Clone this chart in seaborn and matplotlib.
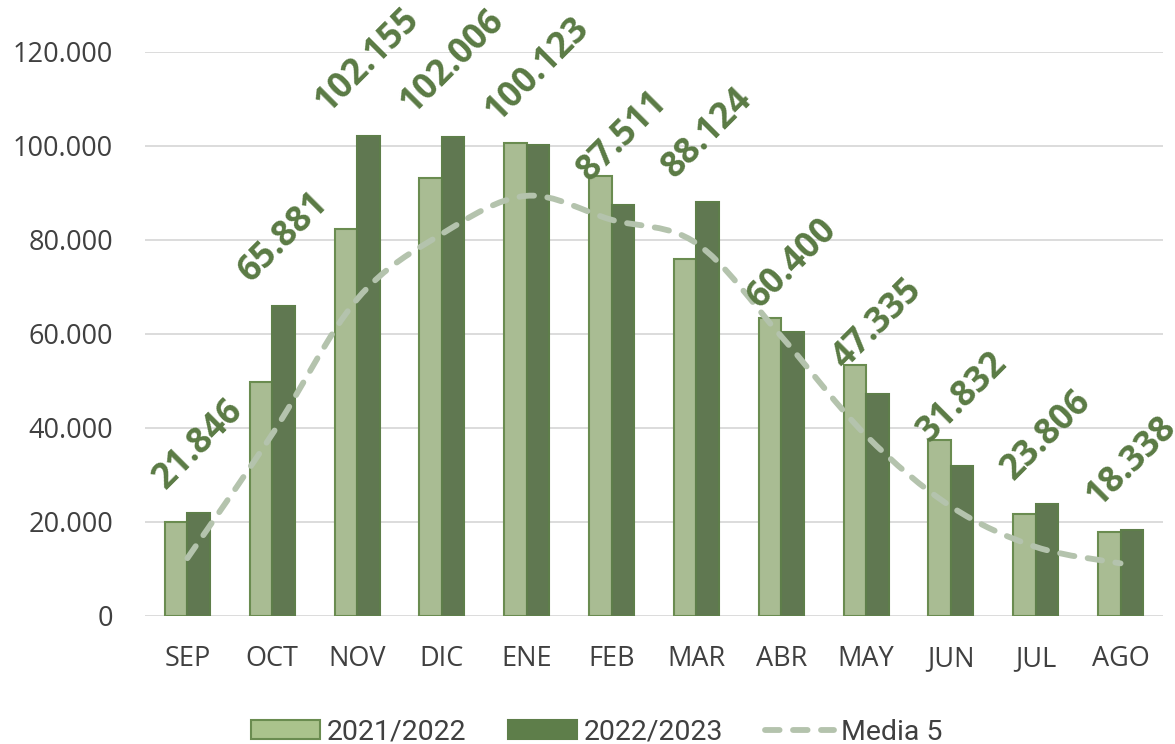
import numpy as np
import pandas as pd
import matplotlib
matplotlib.use('Agg')
import matplotlib.pyplot as plt
from matplotlib.path import Path
from matplotlib.patches import PathPatch, Patch
from matplotlib.lines import Line2D
import seaborn as sns

# Data
months = ['SEP', 'OCT', 'NOV', 'DIC', 'ENE', 'FEB', 'MAR', 'ABR', 'MAY', 'JUN', 'JUL', 'AGO']
season_2122 = [20000, 49800, 82400, 93100, 100700, 93600, 75900, 63300, 53400, 37400, 21700, 17800]
season_2223 = [21846, 65881, 102155, 102006, 100123, 87511, 88124, 60400, 47335, 31832, 23806, 18338]
media_5 = [12300, 38700, 67400, 81300, 89400, 84300, 79300, 59500, 38400, 23300, 14700, 11200]
series_names = ['2021/2022', '2022/2023', 'Media 5']
yticks = [0, 20000, 40000, 60000, 80000, 100000, 120000]

light = '#AAC38C'
dark = '#5E7E4A'
edge_light = '#6A8C50'
label_col = '#5A7A44'
media_col = '#B4C3AD'
grid_col = '#D9D9D9'
text_col = '#404040'

sns.set_style('white')
plt.rcParams['font.family'] = ['Open Sans', 'DejaVu Sans']

df = pd.DataFrame({
    'mes': months * 2,
    'valor': season_2122 + season_2223,
    'temporada': [series_names[0]] * len(months) + [series_names[1]] * len(months),
})

fig = plt.figure(figsize=(11.75, 7.44), dpi=100)
ax = fig.add_axes([145 / 1175, 128 / 744, 1018 / 1175, 564 / 744])

bar_width = 0.53
sns.barplot(data=df, x='mes', y='valor', hue='temporada', palette=[light, dark],
            width=bar_width, legend=False, ax=ax, zorder=2)
for cont, ec in zip(ax.containers, [edge_light, dark]):
    for b in cont:
        b.set_edgecolor(ec)
        b.set_linewidth(1.5)

# smoothed moving average line (Excel style smoothing through the points)
xs = np.arange(len(months), dtype=float)
pts = np.column_stack([xs, media_5])
verts = [pts[0]]
codes = [Path.MOVETO]
for i in range(len(pts) - 1):
    p0 = pts[i - 1] if i > 0 else pts[i]
    p1 = pts[i]
    p2 = pts[i + 1]
    p3 = pts[i + 2] if i + 2 < len(pts) else pts[i + 1]
    c1 = p1 + (p2 - p0) / 6
    c2 = p2 - (p3 - p1) / 6
    verts += [c1, c2, p2]
    codes += [Path.CURVE4] * 3
dash = (0, (2.5, 2.3))
line = PathPatch(Path(verts, codes), facecolor='none', edgecolor=media_col, lw=4.2,
                 linestyle=dash, capstyle='round', zorder=3)
ax.add_patch(line)

# data labels on the 2022/2023 bars
for i, v in enumerate(season_2223):
    ax.annotate(f'{v:,}'.replace(',', '.'), xy=(i + bar_width / 4, v), xytext=(0, 12),
                textcoords='offset points', ha='center', va='bottom', rotation=45,
                fontsize=25.5, fontweight='bold', color=label_col, annotation_clip=False,
                zorder=4)

ax.set_ylim(0, 120000)
ax.set_xlim(-0.5, len(months) - 0.5)
ax.set_yticks(yticks)
ax.set_yticklabels([f'{t:,}'.replace(',', '.') for t in yticks])
ax.grid(axis='y', color=grid_col, lw=1.3, zorder=0)
ax.set_axisbelow(True)
for s in ax.spines.values():
    s.set_visible(False)
ax.tick_params(axis='both', length=0, labelsize=19.5, colors=text_col)
ax.tick_params(axis='y', pad=23)
ax.tick_params(axis='x', pad=21)
ax.set_xlabel('')
ax.set_ylabel('')

handles = [
    Patch(facecolor=light, edgecolor=edge_light, linewidth=1.5),
    Patch(facecolor=dark, edgecolor=dark, linewidth=1.5),
    Line2D([], [], color=media_col, lw=4.2, linestyle=dash, dash_capstyle='round'),
]
fig.legend(handles, series_names, loc='center', bbox_to_anchor=(0.508, 0.016), ncol=3,
           frameon=False, prop={'family': ['Roboto', 'DejaVu Sans'], 'size': 20.5},
           handlelength=2.42, handleheight=0.63, handletextpad=0.25, columnspacing=1.47,
           borderpad=0.1, labelcolor=text_col)

fig.savefig('out.png', dpi=100)
